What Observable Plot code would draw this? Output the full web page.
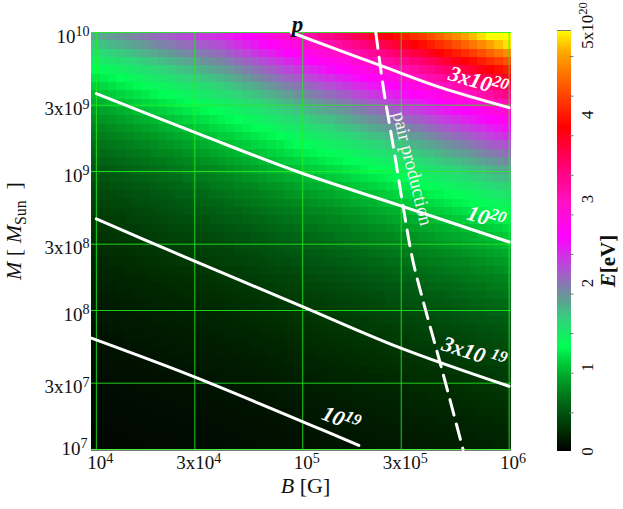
<!DOCTYPE html>
<html><head><meta charset="utf-8">
<script src="https://cdn.jsdelivr.net/npm/d3@7"></script>
<script src="https://cdn.jsdelivr.net/npm/@observablehq/plot@0.6"></script>
<style>
body{margin:0;background:#fff;}
#wrap{position:relative;width:623px;height:509px;overflow:hidden;background:#fff;}
#wrap svg{position:absolute;top:0;}
</style></head><body><div id="wrap"></div>
<script>
// ---- heatmap grid (cell centres, log10) ----
const logB = [3.997,4.038,4.078,4.119,4.160,4.200,4.241,4.282,4.322,4.363,4.404,4.444,4.485,4.526,4.567,4.607,4.648,
  4.689,4.729,4.770,4.811,4.851,4.892,4.933,4.973,5.014,5.055,5.096,5.136,5.177,5.218,5.258,5.299,5.340,5.380,5.421,
  5.462,5.502,5.543,5.584,5.625,5.665,5.706,5.747,5.787,5.828,5.869,5.909,5.950,5.991];
const logM = [7.03,7.09,7.15,7.21,7.27,7.33,7.39,7.45,7.51,7.57,7.63,7.69,7.75,7.81,7.87,7.93,7.99,8.05,8.11,8.17,
  8.23,8.29,8.35,8.41,8.47,8.53,8.59,8.65,8.71,8.77,8.83,8.89,8.95,9.01,9.07,9.13,9.19,9.25,9.31,9.37,
  9.43,9.49,9.55,9.61,9.67,9.73,9.79,9.85,9.91,9.97];
// E in units of 10^20 eV; one array per B column, values from M = 10^7 (bottom) to M = 10^10 (top)
const E_cols = [
[0.04,0.04,0.04,0.05,0.05,0.05,0.06,0.06,0.07,0.07,0.08,0.09,0.09,0.10,0.11,0.12,0.13,0.14,0.15,0.16,0.17,0.19,0.20,0.22,0.24,0.26,0.28,0.30,0.33,0.35,0.38,0.41,0.45,0.48,0.52,0.57,0.61,0.66,0.72,0.78,0.84,0.91,0.98,1.07,1.16,1.25,1.36,1.47,1.59,1.73],
[0.04,0.04,0.04,0.05,0.05,0.06,0.06,0.06,0.07,0.08,0.08,0.09,0.10,0.10,0.11,0.12,0.13,0.14,0.15,0.17,0.18,0.20,0.21,0.23,0.25,0.27,0.29,0.31,0.34,0.37,0.40,0.43,0.46,0.50,0.54,0.59,0.64,0.69,0.74,0.80,0.87,0.94,1.02,1.10,1.19,1.29,1.40,1.51,1.64,1.77],
[0.04,0.04,0.05,0.05,0.05,0.06,0.06,0.07,0.07,0.08,0.09,0.09,0.10,0.11,0.12,0.13,0.14,0.15,0.16,0.17,0.19,0.20,0.22,0.24,0.25,0.28,0.30,0.32,0.35,0.38,0.41,0.44,0.48,0.52,0.56,0.60,0.65,0.71,0.76,0.83,0.89,0.97,1.05,1.13,1.22,1.32,1.43,1.55,1.68,1.81],
[0.04,0.04,0.05,0.05,0.06,0.06,0.06,0.07,0.08,0.08,0.09,0.10,0.10,0.11,0.12,0.13,0.14,0.15,0.17,0.18,0.19,0.21,0.23,0.24,0.26,0.29,0.31,0.33,0.36,0.39,0.42,0.46,0.49,0.53,0.58,0.62,0.67,0.73,0.79,0.85,0.92,1.00,1.08,1.17,1.26,1.36,1.47,1.59,1.72,1.86],
[0.04,0.05,0.05,0.05,0.06,0.06,0.07,0.07,0.08,0.08,0.09,0.10,0.11,0.12,0.13,0.14,0.15,0.16,0.17,0.18,0.20,0.22,0.23,0.25,0.27,0.30,0.32,0.35,0.37,0.40,0.44,0.47,0.51,0.55,0.60,0.64,0.70,0.75,0.81,0.88,0.95,1.03,1.11,1.20,1.30,1.40,1.51,1.63,1.76,1.90],
[0.04,0.05,0.05,0.06,0.06,0.06,0.07,0.08,0.08,0.09,0.09,0.10,0.11,0.12,0.13,0.14,0.15,0.16,0.18,0.19,0.21,0.22,0.24,0.26,0.28,0.30,0.33,0.36,0.39,0.42,0.45,0.49,0.53,0.57,0.61,0.66,0.72,0.78,0.84,0.91,0.98,1.06,1.14,1.23,1.33,1.43,1.55,1.67,1.80,1.94],
[0.05,0.05,0.05,0.06,0.06,0.07,0.07,0.08,0.08,0.09,0.10,0.11,0.11,0.12,0.13,0.14,0.16,0.17,0.18,0.20,0.21,0.23,0.25,0.27,0.29,0.31,0.34,0.37,0.40,0.43,0.46,0.50,0.54,0.59,0.63,0.68,0.74,0.80,0.86,0.93,1.01,1.09,1.17,1.27,1.37,1.47,1.59,1.71,1.84,1.99],
[0.05,0.05,0.05,0.06,0.06,0.07,0.07,0.08,0.09,0.09,0.10,0.11,0.12,0.13,0.14,0.15,0.16,0.18,0.19,0.20,0.22,0.24,0.26,0.28,0.30,0.33,0.35,0.38,0.41,0.44,0.48,0.52,0.56,0.60,0.65,0.71,0.76,0.82,0.89,0.96,1.04,1.12,1.21,1.30,1.40,1.51,1.62,1.75,1.89,2.03],
[0.05,0.05,0.06,0.06,0.07,0.07,0.08,0.08,0.09,0.10,0.11,0.11,0.12,0.13,0.14,0.16,0.17,0.18,0.20,0.21,0.23,0.25,0.27,0.29,0.31,0.34,0.36,0.39,0.42,0.46,0.49,0.53,0.58,0.62,0.67,0.73,0.79,0.85,0.92,0.99,1.07,1.15,1.24,1.33,1.44,1.54,1.66,1.79,1.93,2.07],
[0.05,0.05,0.06,0.06,0.07,0.07,0.08,0.09,0.09,0.10,0.11,0.12,0.13,0.14,0.15,0.16,0.17,0.19,0.20,0.22,0.24,0.26,0.28,0.30,0.32,0.35,0.38,0.41,0.44,0.47,0.51,0.55,0.60,0.64,0.70,0.75,0.81,0.88,0.95,1.02,1.10,1.18,1.27,1.37,1.47,1.58,1.70,1.83,1.97,2.11],
[0.05,0.06,0.06,0.07,0.07,0.08,0.08,0.09,0.10,0.10,0.11,0.12,0.13,0.14,0.15,0.17,0.18,0.19,0.21,0.23,0.24,0.26,0.29,0.31,0.33,0.36,0.39,0.42,0.45,0.49,0.53,0.57,0.61,0.66,0.72,0.77,0.84,0.90,0.98,1.05,1.13,1.21,1.30,1.40,1.51,1.62,1.74,1.87,2.01,2.16],
[0.05,0.06,0.06,0.07,0.07,0.08,0.09,0.09,0.10,0.11,0.12,0.13,0.14,0.15,0.16,0.17,0.19,0.20,0.22,0.23,0.25,0.27,0.29,0.32,0.34,0.37,0.40,0.43,0.47,0.50,0.54,0.59,0.64,0.69,0.74,0.80,0.86,0.93,1.01,1.08,1.16,1.24,1.34,1.43,1.54,1.65,1.77,1.91,2.05,2.20],
[0.06,0.06,0.07,0.07,0.08,0.08,0.09,0.10,0.10,0.11,0.12,0.13,0.14,0.15,0.17,0.18,0.19,0.21,0.22,0.24,0.26,0.28,0.31,0.33,0.36,0.38,0.41,0.45,0.48,0.52,0.56,0.61,0.66,0.71,0.76,0.83,0.89,0.96,1.03,1.11,1.19,1.28,1.37,1.47,1.58,1.69,1.81,1.94,2.09,2.24],
[0.06,0.06,0.07,0.07,0.08,0.09,0.09,0.10,0.11,0.12,0.13,0.14,0.15,0.16,0.17,0.18,0.20,0.22,0.23,0.25,0.27,0.29,0.32,0.34,0.37,0.40,0.43,0.46,0.50,0.54,0.58,0.63,0.68,0.73,0.79,0.85,0.92,0.99,1.06,1.14,1.22,1.31,1.40,1.50,1.61,1.72,1.85,1.98,2.12,2.28],
[0.06,0.07,0.07,0.08,0.08,0.09,0.10,0.10,0.11,0.12,0.13,0.14,0.15,0.16,0.18,0.19,0.21,0.22,0.24,0.26,0.28,0.30,0.33,0.35,0.38,0.41,0.44,0.48,0.51,0.55,0.60,0.65,0.70,0.75,0.81,0.88,0.95,1.02,1.09,1.17,1.25,1.34,1.43,1.53,1.64,1.76,1.88,2.02,2.16,2.31],
[0.06,0.07,0.07,0.08,0.09,0.09,0.10,0.11,0.12,0.12,0.13,0.15,0.16,0.17,0.18,0.20,0.21,0.23,0.25,0.27,0.29,0.31,0.34,0.36,0.39,0.42,0.46,0.49,0.53,0.57,0.62,0.67,0.72,0.77,0.84,0.90,0.97,1.05,1.12,1.20,1.28,1.37,1.47,1.57,1.68,1.80,1.92,2.06,2.20,2.35],
[0.07,0.07,0.08,0.08,0.09,0.10,0.10,0.11,0.12,0.13,0.14,0.15,0.16,0.18,0.19,0.20,0.22,0.24,0.26,0.28,0.30,0.32,0.35,0.37,0.40,0.44,0.47,0.51,0.55,0.59,0.64,0.69,0.74,0.80,0.86,0.93,1.00,1.07,1.15,1.23,1.31,1.41,1.51,1.61,1.72,1.84,1.97,2.11,2.26,2.42],
[0.07,0.07,0.08,0.09,0.09,0.10,0.11,0.12,0.12,0.13,0.14,0.16,0.17,0.18,0.20,0.21,0.23,0.25,0.26,0.29,0.31,0.33,0.36,0.39,0.42,0.45,0.49,0.52,0.56,0.61,0.66,0.71,0.76,0.82,0.89,0.96,1.03,1.10,1.18,1.26,1.35,1.44,1.55,1.65,1.77,1.89,2.03,2.17,2.32,2.48],
[0.07,0.08,0.08,0.09,0.10,0.10,0.11,0.12,0.13,0.14,0.15,0.16,0.17,0.19,0.20,0.22,0.24,0.25,0.27,0.29,0.32,0.34,0.37,0.40,0.43,0.46,0.50,0.54,0.58,0.63,0.68,0.73,0.79,0.85,0.91,0.99,1.06,1.13,1.21,1.30,1.39,1.48,1.59,1.70,1.82,1.94,2.08,2.23,2.38,2.55],
[0.07,0.08,0.08,0.09,0.10,0.11,0.11,0.12,0.13,0.14,0.15,0.17,0.18,0.19,0.21,0.23,0.24,0.26,0.28,0.30,0.33,0.35,0.38,0.41,0.44,0.48,0.52,0.56,0.60,0.65,0.70,0.75,0.81,0.87,0.94,1.01,1.09,1.16,1.24,1.33,1.42,1.52,1.63,1.74,1.87,2.00,2.14,2.29,2.44,2.62],
[0.08,0.08,0.09,0.09,0.10,0.11,0.12,0.13,0.14,0.15,0.16,0.17,0.19,0.20,0.22,0.23,0.25,0.27,0.29,0.31,0.34,0.37,0.39,0.43,0.46,0.49,0.53,0.57,0.62,0.67,0.72,0.78,0.84,0.90,0.97,1.04,1.11,1.19,1.28,1.37,1.46,1.56,1.67,1.79,1.92,2.05,2.19,2.35,2.51,2.69],
[0.08,0.08,0.09,0.10,0.11,0.11,0.12,0.13,0.14,0.15,0.17,0.18,0.19,0.21,0.22,0.24,0.26,0.28,0.30,0.32,0.35,0.38,0.41,0.44,0.47,0.51,0.55,0.59,0.64,0.69,0.74,0.80,0.86,0.93,1.00,1.07,1.14,1.22,1.31,1.40,1.50,1.60,1.72,1.84,1.97,2.10,2.25,2.41,2.58,2.76],
[0.08,0.09,0.09,0.10,0.11,0.12,0.13,0.14,0.15,0.16,0.17,0.18,0.20,0.21,0.23,0.25,0.27,0.29,0.31,0.34,0.36,0.39,0.42,0.45,0.49,0.53,0.57,0.61,0.66,0.71,0.76,0.82,0.89,0.95,1.03,1.10,1.17,1.26,1.35,1.44,1.54,1.65,1.76,1.89,2.02,2.16,2.31,2.47,2.65,2.83],
[0.08,0.09,0.10,0.11,0.11,0.12,0.13,0.14,0.15,0.16,0.18,0.19,0.21,0.22,0.24,0.26,0.28,0.30,0.32,0.35,0.37,0.40,0.43,0.47,0.50,0.54,0.58,0.63,0.68,0.73,0.79,0.85,0.91,0.98,1.05,1.13,1.21,1.29,1.38,1.48,1.58,1.69,1.81,1.94,2.07,2.22,2.37,2.54,2.72,2.91],
[0.09,0.09,0.10,0.11,0.12,0.13,0.14,0.15,0.16,0.17,0.18,0.20,0.21,0.23,0.25,0.27,0.29,0.31,0.33,0.36,0.38,0.41,0.45,0.48,0.52,0.56,0.60,0.65,0.70,0.75,0.81,0.87,0.94,1.01,1.08,1.16,1.24,1.33,1.42,1.52,1.62,1.74,1.86,1.99,2.13,2.28,2.44,2.61,2.79,2.99],
[0.09,0.10,0.10,0.11,0.12,0.13,0.14,0.15,0.16,0.18,0.19,0.20,0.22,0.24,0.25,0.27,0.29,0.32,0.34,0.37,0.40,0.43,0.46,0.49,0.53,0.57,0.62,0.67,0.72,0.77,0.83,0.90,0.96,1.04,1.11,1.19,1.27,1.36,1.45,1.55,1.66,1.78,1.90,2.04,2.18,2.33,2.50,2.67,2.86,3.06],
[0.09,0.10,0.11,0.12,0.12,0.13,0.14,0.16,0.17,0.18,0.19,0.21,0.23,0.24,0.26,0.28,0.30,0.33,0.35,0.38,0.41,0.44,0.47,0.51,0.55,0.59,0.63,0.68,0.74,0.79,0.85,0.92,0.99,1.06,1.13,1.21,1.30,1.39,1.49,1.59,1.70,1.82,1.95,2.08,2.23,2.39,2.55,2.73,2.92,3.13],
[0.10,0.10,0.11,0.12,0.13,0.14,0.15,0.16,0.17,0.19,0.20,0.22,0.23,0.25,0.27,0.29,0.31,0.33,0.36,0.39,0.42,0.45,0.48,0.52,0.56,0.60,0.65,0.70,0.75,0.81,0.87,0.94,1.01,1.08,1.16,1.24,1.33,1.42,1.52,1.63,1.74,1.86,1.99,2.13,2.28,2.44,2.61,2.80,2.99,3.20],
[0.10,0.11,0.11,0.12,0.13,0.14,0.15,0.16,0.18,0.19,0.21,0.22,0.24,0.26,0.28,0.30,0.32,0.34,0.37,0.40,0.43,0.46,0.50,0.53,0.58,0.62,0.67,0.72,0.77,0.83,0.89,0.96,1.04,1.11,1.19,1.27,1.36,1.45,1.55,1.66,1.78,1.90,2.04,2.18,2.33,2.50,2.67,2.86,3.06,3.27],
[0.10,0.11,0.12,0.13,0.14,0.15,0.16,0.17,0.18,0.20,0.21,0.23,0.24,0.26,0.28,0.30,0.33,0.35,0.38,0.41,0.44,0.47,0.51,0.55,0.59,0.64,0.68,0.74,0.79,0.85,0.92,0.99,1.06,1.13,1.21,1.30,1.39,1.49,1.59,1.70,1.82,1.95,2.08,2.23,2.38,2.55,2.73,2.92,3.13,3.34],
[0.10,0.11,0.12,0.13,0.14,0.15,0.16,0.17,0.19,0.20,0.22,0.23,0.25,0.27,0.29,0.31,0.34,0.36,0.39,0.42,0.45,0.49,0.52,0.56,0.61,0.65,0.70,0.76,0.81,0.87,0.94,1.01,1.08,1.16,1.24,1.33,1.42,1.52,1.63,1.74,1.86,1.99,2.13,2.28,2.44,2.61,2.79,2.99,3.20,3.42],
[0.11,0.12,0.12,0.13,0.14,0.16,0.17,0.18,0.19,0.21,0.22,0.24,0.26,0.28,0.30,0.32,0.35,0.37,0.40,0.43,0.46,0.50,0.54,0.58,0.62,0.67,0.72,0.77,0.83,0.90,0.96,1.03,1.11,1.18,1.27,1.36,1.45,1.55,1.66,1.78,1.90,2.04,2.18,2.33,2.49,2.67,2.86,3.06,3.27,3.50],
[0.11,0.12,0.13,0.14,0.15,0.16,0.17,0.18,0.20,0.21,0.23,0.25,0.27,0.29,0.31,0.33,0.36,0.38,0.41,0.44,0.48,0.51,0.55,0.59,0.64,0.69,0.74,0.79,0.85,0.92,0.99,1.06,1.13,1.21,1.30,1.39,1.48,1.59,1.70,1.82,1.95,2.08,2.23,2.38,2.55,2.73,2.92,3.13,3.34,3.58],
[0.11,0.12,0.13,0.14,0.15,0.16,0.18,0.19,0.20,0.22,0.24,0.25,0.27,0.29,0.32,0.34,0.37,0.39,0.42,0.46,0.49,0.53,0.57,0.61,0.66,0.71,0.76,0.82,0.88,0.94,1.01,1.08,1.16,1.24,1.33,1.42,1.52,1.63,1.74,1.86,1.99,2.13,2.28,2.44,2.61,2.79,2.99,3.20,3.42,3.66],
[0.12,0.13,0.14,0.15,0.16,0.17,0.18,0.20,0.21,0.23,0.24,0.26,0.28,0.30,0.33,0.35,0.38,0.40,0.43,0.47,0.50,0.54,0.58,0.63,0.67,0.72,0.78,0.84,0.90,0.97,1.03,1.11,1.18,1.27,1.36,1.45,1.55,1.66,1.78,1.90,2.04,2.18,2.33,2.49,2.67,2.86,3.06,3.27,3.50,3.74],
[0.12,0.13,0.14,0.15,0.16,0.17,0.19,0.20,0.22,0.23,0.25,0.27,0.29,0.31,0.33,0.36,0.39,0.42,0.45,0.48,0.52,0.55,0.60,0.64,0.69,0.74,0.80,0.86,0.92,0.99,1.06,1.13,1.21,1.30,1.39,1.48,1.59,1.70,1.82,1.95,2.08,2.23,2.38,2.55,2.73,2.92,3.12,3.34,3.58,3.83],
[0.12,0.13,0.14,0.16,0.17,0.18,0.19,0.21,0.22,0.24,0.26,0.28,0.30,0.32,0.34,0.37,0.40,0.43,0.46,0.49,0.53,0.57,0.61,0.66,0.71,0.76,0.82,0.88,0.94,1.01,1.08,1.16,1.24,1.33,1.42,1.52,1.62,1.74,1.86,1.99,2.13,2.28,2.44,2.61,2.79,2.99,3.20,3.42,3.66,3.92],
[0.13,0.14,0.15,0.16,0.17,0.18,0.20,0.21,0.23,0.25,0.26,0.28,0.30,0.33,0.35,0.38,0.41,0.44,0.47,0.50,0.54,0.58,0.63,0.67,0.72,0.78,0.84,0.90,0.97,1.03,1.11,1.18,1.27,1.36,1.45,1.55,1.66,1.78,1.90,2.04,2.18,2.33,2.49,2.67,2.86,3.06,3.27,3.50,3.74,4.01],
[0.13,0.14,0.15,0.16,0.18,0.19,0.20,0.22,0.24,0.25,0.27,0.29,0.31,0.34,0.36,0.39,0.42,0.45,0.48,0.52,0.56,0.60,0.64,0.69,0.74,0.80,0.86,0.92,0.99,1.06,1.13,1.21,1.30,1.39,1.48,1.59,1.70,1.82,1.95,2.08,2.23,2.38,2.55,2.73,2.92,3.12,3.34,3.58,3.83,4.10],
[0.14,0.15,0.16,0.17,0.18,0.20,0.21,0.23,0.24,0.26,0.28,0.30,0.32,0.35,0.37,0.40,0.43,0.46,0.50,0.53,0.57,0.61,0.66,0.71,0.76,0.82,0.88,0.94,1.01,1.08,1.16,1.24,1.33,1.42,1.52,1.63,1.74,1.86,1.99,2.13,2.28,2.44,2.61,2.79,2.99,3.20,3.42,3.66,3.92,4.19],
[0.14,0.15,0.16,0.17,0.19,0.20,0.22,0.23,0.25,0.27,0.29,0.31,0.33,0.36,0.38,0.41,0.44,0.47,0.51,0.55,0.59,0.63,0.68,0.73,0.78,0.84,0.90,0.97,1.04,1.11,1.19,1.27,1.36,1.45,1.55,1.66,1.78,1.90,2.04,2.18,2.33,2.50,2.67,2.86,3.06,3.27,3.50,3.74,4.01,4.29],
[0.14,0.15,0.17,0.18,0.19,0.21,0.22,0.24,0.26,0.27,0.29,0.32,0.34,0.36,0.39,0.42,0.45,0.48,0.52,0.56,0.60,0.64,0.69,0.74,0.80,0.86,0.92,0.99,1.06,1.13,1.21,1.30,1.39,1.49,1.59,1.70,1.82,1.95,2.08,2.23,2.38,2.55,2.73,2.92,3.13,3.34,3.58,3.83,4.10,4.38],
[0.15,0.16,0.17,0.18,0.20,0.21,0.23,0.24,0.26,0.28,0.30,0.32,0.35,0.37,0.40,0.43,0.46,0.50,0.53,0.57,0.61,0.66,0.71,0.76,0.82,0.88,0.94,1.01,1.08,1.16,1.24,1.33,1.42,1.52,1.63,1.74,1.86,1.99,2.13,2.28,2.44,2.61,2.79,2.99,3.20,3.42,3.66,3.92,4.19,4.49],
[0.15,0.16,0.18,0.19,0.20,0.22,0.23,0.25,0.27,0.29,0.31,0.33,0.36,0.38,0.41,0.44,0.47,0.51,0.55,0.59,0.63,0.68,0.73,0.78,0.84,0.90,0.96,1.04,1.11,1.19,1.27,1.36,1.45,1.55,1.66,1.78,1.90,2.04,2.18,2.33,2.50,2.67,2.86,3.06,3.27,3.50,3.75,4.01,4.29,4.59],
[0.16,0.17,0.18,0.19,0.21,0.22,0.24,0.26,0.28,0.30,0.32,0.34,0.37,0.39,0.42,0.45,0.49,0.52,0.56,0.60,0.65,0.69,0.74,0.80,0.86,0.92,0.99,1.06,1.13,1.21,1.30,1.39,1.49,1.59,1.70,1.82,1.95,2.08,2.23,2.39,2.55,2.73,2.92,3.13,3.35,3.58,3.83,4.10,4.39,4.69],
[0.16,0.17,0.19,0.20,0.21,0.23,0.25,0.27,0.28,0.31,0.33,0.35,0.38,0.41,0.43,0.47,0.50,0.54,0.58,0.62,0.66,0.71,0.76,0.82,0.88,0.94,1.01,1.08,1.16,1.24,1.33,1.42,1.52,1.63,1.74,1.86,1.99,2.13,2.28,2.44,2.61,2.80,2.99,3.20,3.42,3.66,3.92,4.19,4.49,4.80],
[0.17,0.18,0.19,0.21,0.22,0.24,0.25,0.27,0.29,0.31,0.34,0.36,0.39,0.42,0.45,0.48,0.51,0.55,0.59,0.63,0.68,0.73,0.78,0.84,0.90,0.97,1.04,1.11,1.19,1.27,1.36,1.45,1.56,1.66,1.78,1.91,2.04,2.18,2.33,2.50,2.67,2.86,3.06,3.27,3.50,3.75,4.01,4.29,4.59,4.91],
[0.17,0.18,0.20,0.21,0.23,0.24,0.26,0.28,0.30,0.32,0.35,0.37,0.40,0.43,0.46,0.49,0.53,0.56,0.61,0.65,0.70,0.75,0.80,0.86,0.92,0.99,1.06,1.13,1.21,1.30,1.39,1.49,1.59,1.70,1.82,1.95,2.09,2.23,2.39,2.55,2.73,2.93,3.13,3.35,3.58,3.83,4.10,4.39,4.70,5.03],
[0.18,0.19,0.20,0.22,0.23,0.25,0.27,0.29,0.31,0.33,0.35,0.38,0.41,0.44,0.47,0.50,0.54,0.58,0.62,0.67,0.71,0.77,0.82,0.88,0.95,1.01,1.08,1.16,1.24,1.33,1.42,1.52,1.63,1.74,1.86,1.99,2.13,2.28,2.44,2.61,2.80,2.99,3.20,3.43,3.67,3.92,4.20,4.49,4.81,5.14],
[0.18,0.19,0.21,0.22,0.24,0.26,0.28,0.30,0.32,0.34,0.36,0.39,0.42,0.45,0.48,0.52,0.55,0.59,0.64,0.68,0.73,0.79,0.84,0.90,0.97,1.04,1.11,1.19,1.27,1.36,1.45,1.56,1.67,1.78,1.91,2.04,2.18,2.34,2.50,2.67,2.86,3.06,3.28,3.51,3.75,4.01,4.29,4.60,4.92,5.26]
];

// ---- contour lines (B [G], M [M_sun]) ----
const c19_B  = [9.46e3, 2.92e4, 1.22e5, 1.87e5];
const c19_M  = [6.32e7, 3.37e7, 1.40e7, 1.07e7];
const c3e19_B = [1e4, 2.29e4, 9.77e4, 2.99e5, 1e6];
const c3e19_M = [4.56e8, 2.68e8, 1.08e8, 5.36e7, 2.85e7];
const c20_B  = [1e4, 3.20e4, 9.77e4, 2.99e5, 1e6];
const c20_M  = [3.63e9, 1.84e9, 9.79e8, 5.66e8, 3.11e8];
const c3e20_B = [8.8e4, 2.39e5, 4.68e5, 1e6];
const c3e20_M = [1e10, 5.78e9, 4.01e9, 2.88e9];
// pair production limit (dashed)
const pair_B = [2.26e5, 2.47e5, 2.77e5, 3.09e5, 3.42e5, 3.95e5, 4.68e5, 5.98e5];
const pair_M = [1e10, 3.82e9, 1.41e9, 5.21e8, 2.27e8, 9.91e7, 3.97e7, 1e7];

// contour labels
const labelText  = ["10^{19}", "3x10 ^{19}", "10^{20}", "3x10^{20}"];
const labelB     = [1.53e5, 6.76e5, 7.73e5, 7.08e5];
const labelM     = [1.65e7, 4.93e7, 4.64e8, 4.44e9];
const labelAngle = [22, 18, 17, 17];
const pairText = "pair production";
const pairLabelB = 3.40e5, pairLabelM = 1.05e9, pairAngle = 76;

// ---- axes ----
const xTicks = [1e4, 3e4, 1e5, 3e5, 1e6];
const xTickLabels = ["10^{4}", "3x10^{4}", "10^{5}", "3x10^{5}", "10^{6}"];
const yTicks = [1e7, 3e7, 1e8, 3e8, 1e9, 3e9, 1e10];
const yTickLabels = ["10^{7}", "3x10^{7}", "10^{8}", "3x10^{8}", "10^{9}", "3x10^{9}", "10^{10}"];

// ---- colour bar ----
const colorStops = [0, 0.25, 0.5, 0.75, 1.0, 1.25, 1.55, 1.85, 2.2, 2.55, 2.95, 3.4, 3.85, 4.35, 4.75, 5.0];
const colorRange = ["#000000","#003000","#005a12","#008a1e","#00c034","#00ff55","#30d47a","#6a949a",
                    "#b84ad8","#ff00ff","#ff10c4","#ff0070","#ff0000","#ff5a00","#ffaa00","#ffff00"];
const cbLabelVals = [0, 1, 2, 3, 4];
const cbTopLabel = "5x10^{20}";
const cbTicks = [0.46, 0.93, 1.40, 1.87, 2.34, 2.81, 3.28, 3.75, 4.22, 4.69];

// ---------- build ----------
const SERIF = "'Liberation Serif', 'Times New Roman', serif";
function edges(c) {
  const n = c.length, e = [c[0] - (c[1] - c[0]) / 2];
  for (let k = 0; k < n - 1; k++) e.push((c[k] + c[k + 1]) / 2);
  e.push(c[n - 1] + (c[n - 1] - c[n - 2]) / 2);
  return e;
}
const eB = edges(logB), eM = edges(logM);
const cells = [];
E_cols.forEach((col, j) => col.forEach((v, i) => cells.push({
  x1: 10 ** eB[j], x2: 10 ** eB[j + 1], y1: 10 ** eM[i], y2: 10 ** eM[i + 1], E: v
})));
const zip = (B, M) => B.map((b, k) => ({B: b, M: M[k]}));
const contours = [zip(c19_B, c19_M), zip(c3e19_B, c3e19_M), zip(c20_B, c20_M), zip(c3e20_B, c3e20_M)];
const pair = zip(pair_B, pair_M);
const labels = labelText.map((t, k) => ({t, B: labelB[k], M: labelM[k], a: labelAngle[k]}));
const yLab = yTicks.map((v, i) => ({v, t: yTickLabels[i]}));

const colorScale = {type: "linear", domain: colorStops, range: colorRange, clamp: true, interpolate: "rgb"};

const main = Plot.plot({
  width: 623, height: 509,
  marginLeft: 91, marginRight: 112, marginTop: 32, marginBottom: 60,
  style: {fontFamily: SERIF, background: "transparent", overflow: "visible"},
  x: {type: "log", domain: [10 ** eB[0], 10 ** eB[eB.length - 1]], axis: null},
  y: {type: "log", domain: [10 ** eM[0], 10 ** eM[eM.length - 1]], axis: null},
  color: colorScale,
  marks: [
    Plot.rect(cells, {x1: "x1", x2: "x2", y1: "y1", y2: "y2", fill: "E", shapeRendering: "crispEdges"}),
    Plot.gridX(xTicks, {stroke: "#22ee22", strokeOpacity: 0.85, strokeWidth: 1}),
    Plot.gridY(yTicks, {stroke: "#22ee22", strokeOpacity: 0.85, strokeWidth: 1}),
    Plot.ruleY([10 ** eM[0]], {stroke: "#777", strokeWidth: 1, dy: 1}),
    ...contours.map(c => Plot.line(c, {x: "B", y: "M", stroke: "white", strokeWidth: 3, curve: "catmull-rom"})),
    Plot.line(pair, {x: "B", y: "M", stroke: "white", strokeWidth: 3, strokeDasharray: "16,9", curve: "catmull-rom"}),
    Plot.text(labels, {x: "B", y: "M", text: "t", rotate: "a", fill: "white", fontSize: 22,
      fontWeight: "bold", fontStyle: "italic", textAnchor: "middle", clip: true}),
    Plot.text([pairText], {x: () => pairLabelB, y: () => pairLabelM, rotate: pairAngle, fill: "#f4f4f4",
      fontSize: 19, textAnchor: "middle"}),
    // tick labels
    Plot.text(xTicks, {x: d => d, text: (d, i) => xTickLabels[i], frameAnchor: "bottom", lineAnchor: "top",
      textAnchor: "middle", dx: 4, dy: 6, fontSize: 19, fill: "#111"}),
    Plot.text(yLab.slice(1), {y: "v", text: "t", frameAnchor: "left", textAnchor: "end",
      dx: -2, dy: 4, fontSize: 19, fill: "#111"}),
    Plot.text(yLab.slice(0, 1), {y: "v", text: "t", frameAnchor: "left", textAnchor: "end",
      dx: -4, dy: -1, fontSize: 19, fill: "#111"}),
    // axis titles
    Plot.text(["*B* [G]"], {frameAnchor: "bottom", textAnchor: "middle", dx: 4, dy: 43, fontSize: 22, fill: "#111"}),
    Plot.text(["*M* [ *M*_{Sun}  ]"], {frameAnchor: "left", textAnchor: "middle", dx: -78, dy: -10, rotate: -90,
      fontSize: 22, fill: "#111"}),
    Plot.text(["p"], {frameAnchor: "top", textAnchor: "middle", dx: -4, dy: -17, fontSize: 23, fontWeight: "bold",
      fontStyle: "italic", fill: "#111"})
  ]
});

const ramp = d3.range(0, 5, 0.025);
const cb = Plot.plot({
  width: 83, height: 509,
  marginLeft: 17, marginRight: 52, marginTop: 30, marginBottom: 58,
  style: {fontFamily: SERIF, background: "transparent", overflow: "visible"},
  x: {domain: [0, 1], axis: null},
  y: {domain: [0, 5], axis: null},
  color: colorScale,
  marks: [
    Plot.rect(ramp, {x1: 0, x2: 1, y1: d => d, y2: d => d + 0.025, fill: d => d + 0.0125, shapeRendering: "crispEdges"}),
    Plot.ruleY([5], {stroke: "#777", strokeWidth: 1}),
    Plot.ruleY(cbTicks, {x1: 0.88, x2: 1.18, stroke: "#777", strokeWidth: 1}),
    Plot.text(cbLabelVals, {y: d => d, text: d => String(d), frameAnchor: "right", textAnchor: "middle",
      dx: 16, rotate: -90, fontSize: 17, fill: "#111"}),
    Plot.text([cbTopLabel], {y: () => 5, frameAnchor: "right", textAnchor: "middle", dx: 16, dy: -5,
      rotate: -90, fontSize: 17, fill: "#111"}),
    Plot.text(["*E*[eV]"], {frameAnchor: "right", textAnchor: "middle", dx: 37, dy: 20, rotate: -90,
      fontSize: 21, fontWeight: "bold", fill: "#111"})
  ]
});

const wrap = document.getElementById("wrap");
main.style.left = "0px";
cb.style.left = "540px";
wrap.appendChild(main);
wrap.appendChild(cb);

function richify(root) {
  root.querySelectorAll("text").forEach(t => {
    const src = t.textContent;
    if (!/[\^_*]/.test(src)) return;
    const base = parseFloat(getComputedStyle(t).fontSize) || 16;
    t.textContent = "";
    t.setAttribute("xml:space", "preserve");
    t.style.whiteSpace = "pre";
    const re = /\^\{([^}]*)\}|_\{([^}]*)\}|\*([^*]*)\*|([^\^_*]+)/g;
    let m, cur = 0;
    while ((m = re.exec(src))) {
      const ts = document.createElementNS("http://www.w3.org/2000/svg", "tspan");
      let want = 0;
      if (m[1] !== undefined) { ts.textContent = m[1]; ts.setAttribute("font-size", (base * 0.74).toFixed(1)); want = -base * 0.34; }
      else if (m[2] !== undefined) { ts.textContent = m[2]; ts.setAttribute("font-size", (base * 0.72).toFixed(1)); want = base * 0.24; }
      else if (m[3] !== undefined) { ts.textContent = m[3]; ts.setAttribute("font-style", "italic"); }
      else ts.textContent = m[4];
      if (Math.abs(want - cur) > 1e-6) { ts.setAttribute("dy", (want - cur).toFixed(2)); cur = want; }
      t.appendChild(ts);
    }
  });
}
richify(main);
richify(cb);
</script></body></html>
